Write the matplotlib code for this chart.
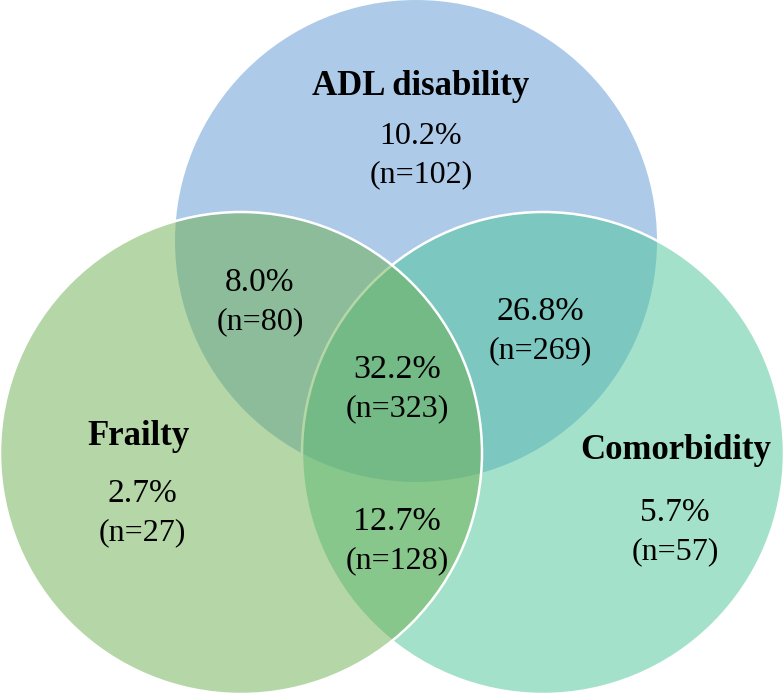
import matplotlib
matplotlib.use("Agg")
import matplotlib.pyplot as plt
from matplotlib.patches import Circle

# Data
set_names = ["ADL disability", "Frailty", "Comorbidity"]
region_keys = ["A", "F", "C", "AF", "AC", "AFC", "FC"]
region_pct = [10.2, 2.7, 5.7, 8.0, 26.8, 32.2, 12.7]
region_n = [102, 27, 57, 80, 269, 323, 128]

# Layout (pixel coordinates, y down)
centers = {"A": (416, 241), "F": (241, 453), "C": (543, 453)}
radius = 241
colors = {"A": "#5F97D5", "F": "#6DAF4F", "C": "#4BC597"}
name_pos = {"ADL disability": (421, 86), "Frailty": (139, 436), "Comorbidity": (676, 450)}
pct_pos = {"A": (421, 136), "F": (142, 494), "C": (675, 513),
           "AF": (260, 283), "AC": (540, 312), "AFC": (397, 370), "FC": (397, 522)}
pct_size = {"A": 23, "F": 24, "C": 24, "AF": 24, "AC": 24.5, "AFC": 24.5, "FC": 24.5}
n_offset = 39

fig = plt.figure(figsize=(7.84, 6.94), dpi=100)
ax = fig.add_axes([0, 0, 1, 1])
ax.set_xlim(0, 784)
ax.set_ylim(694, 0)
ax.set_aspect("equal")
ax.axis("off")

# draw order: top, right, left
ax.add_patch(Circle(centers["A"], radius, facecolor=colors["A"], alpha=0.5, edgecolor="none"))
ax.add_patch(Circle(centers["C"], radius, facecolor=colors["C"], alpha=0.5, edgecolor="none"))
ax.add_patch(Circle(centers["C"], radius, facecolor="none", edgecolor="white", lw=1.8))
ax.add_patch(Circle(centers["F"], radius, facecolor=colors["F"], alpha=0.5, edgecolor="none"))
ax.add_patch(Circle(centers["F"], radius, facecolor="none", edgecolor="white", lw=1.8))

serif = ["Liberation Serif", "DejaVu Serif"]
for name, (x, y) in name_pos.items():
    ax.text(x, y, name, ha="center", va="center", fontsize=25, fontweight="bold",
            family=serif, color="black")

for key, pct, n in zip(region_keys, region_pct, region_n):
    x, y = pct_pos[key]
    ax.text(x, y, f"{pct:.1f}%", ha="center", va="center", fontsize=pct_size[key],
            family=serif, color="black")
    ax.text(x, y + n_offset, f"(n={n})", ha="center", va="center", fontsize=23,
            family=serif, color="black")

fig.savefig("out.png", dpi=100)
